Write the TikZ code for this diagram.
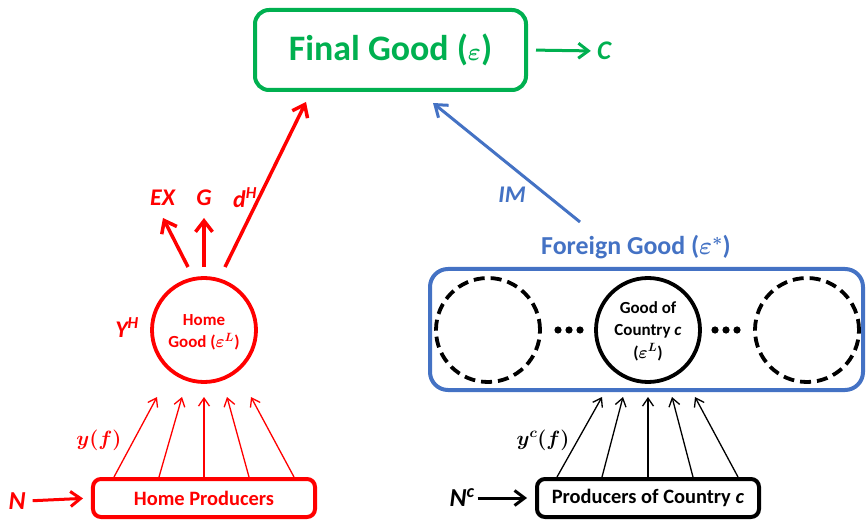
\documentclass[tikz,border=0pt]{standalone}
\usepackage{amsmath}
\usepackage{bm}
\usepackage{fontspec}
\setmainfont{Carlito}
\usetikzlibrary{arrows.meta}
\definecolor{fgreen}{RGB}{0,176,80}
\definecolor{fblue}{RGB}{68,114,196}
\definecolor{fred}{RGB}{255,0,0}
\tikzset{
  bigarrow/.style={line width=3.5bp,-{Straight Barb[length=11bp,width=17bp]}},
  thinarrow/.style={line width=1.3bp,-{Straight Barb[length=8bp,width=11bp]}},
  lbl/.style={font=\fontsize{24}{27}\selectfont\bfseries\itshape,inner sep=1bp},
  boxlbl/.style={font=\fontsize{20.5}{24}\selectfont\bfseries},
  circlbl/.style={font=\fontsize{17}{22.5}\selectfont\bfseries,align=center},
  prodbox/.style={draw,line width=4bp,rounded corners=8bp,minimum width=222bp,minimum height=38bp,inner sep=0},
  goodcirc/.style={circle,line width=3.8bp,minimum size=104bp,inner sep=0},
}
\begin{document}
\begin{tikzpicture}[x=1bp,y=-1bp]
\useasboundingbox (0,0) rectangle (866,521);

% Final good
\node[draw=fgreen,line width=4bp,rounded corners=14bp,minimum width=271bp,minimum height=80bp,
      text=fgreen,font=\fontsize{36}{40}\selectfont\bfseries] (final) at (390.5,50) {Final Good ($\bm{\varepsilon}$)};
\node[lbl,text=fgreen,font=\fontsize{27}{30}\selectfont\bfseries\itshape] (C) at (604,51) {C};
\draw[line width=3bp,fgreen,-{Straight Barb[length=10bp,width=15bp]},shorten <=8bp,shorten >=5bp] (final.east) -- (C.west);

% Home side
\node[goodcirc,draw=fred,text=fred] (home) at (204,330) {};
\node[circlbl,text=fred] (hometxt) at (204,332) {Home\\Good ($\bm{\varepsilon^{L}}$)};
\node[lbl,text=fred] (YH) at (127,328) {Y\textsuperscript{H}};

\node[lbl,text=fred] (EX) at (162.5,198) {EX};
\node[lbl,text=fred] (G) at (204,198) {G};
\node[lbl,text=fred] (dH) at (245,198) {d\textsuperscript{H}};

\coordinate (exs) at (188,267);
\coordinate (exe) at (163,218);
\coordinate (gs) at (204,267);
\coordinate (ge) at (204,218);
\coordinate (ds) at (225,267);
\coordinate (de) at (306,102);
\draw[bigarrow,fred] (exs) -- (exe);
\draw[bigarrow,fred] (gs) -- (ge);
\draw[bigarrow,fred] (ds) -- (de);

\node[prodbox,draw=fred,text=fred,boxlbl] (hp) at (204,498) {Home Producers};
\node[lbl,text=fred,font=\fontsize{26}{30}\selectfont\bfseries\itshape] (N) at (17,501) {N};
\draw[line width=3bp,fred,-{Straight Barb[length=10bp,width=15bp]},shorten <=6bp,shorten >=8bp] (N.east) -- (hp.west);

\foreach \i/\sx/\ex in {1/114/157,2/159/182,3/204/204,4/249/227,5/294/251}{
  \coordinate (hs\i) at (\sx,477);
  \coordinate (he\i) at (\ex,397);
  \draw[thinarrow,fred] (hs\i) -- (he\i);
}
\node[text=fred,font=\fontsize{20}{24}\selectfont] (yf) at (99,440) {$\bm{y(f)}$};

% Foreign side
\node[text=fblue,font=\fontsize{26}{30}\selectfont\bfseries] (fgt) at (636,247) {Foreign Good ($\bm{\varepsilon^{*}}$)};
\node[draw=fblue,line width=4bp,rounded corners=18bp,minimum width=433bp,minimum height=121bp,inner sep=0] (fbox) at (646.5,329.5) {};
\node[goodcirc,draw=black,dash pattern=on 11bp off 6bp] (lc) at (488,330) {};
\node[goodcirc,draw=black,dash pattern=on 11bp off 6bp] (rc) at (807,330) {};
\node[goodcirc,draw=black] (cc) at (648,330) {};
\node[circlbl,text=black] (cctxt) at (648,331) {Good of\\Country \textit{c}\\($\bm{\varepsilon^{L}}$)};
\foreach \dx in {558,569,580}{\fill (\dx,330) circle (3.6bp);}
\foreach \dx in {715,726,737}{\fill (\dx,330) circle (3.6bp);}

\coordinate (ims) at (580,222);
\coordinate (ime) at (433,103);
\draw[line width=3bp,fblue,-{Straight Barb[length=11bp,width=16bp]}] (ims) -- (ime);
\node[lbl,text=fblue] (IM) at (512,195) {IM};

\node[prodbox,draw=black,boxlbl] (pc) at (648,498) {Producers of Country \textit{c}};
\node[lbl,font=\fontsize{26}{30}\selectfont\bfseries\itshape] (Nc) at (462,498) {N\textsuperscript{c}};
\draw[line width=3bp,-{Straight Barb[length=10bp,width=15bp]},shorten <=2bp,shorten >=8bp] (Nc.east) -- (pc.west);

\foreach \i/\sx/\ex in {1/557/602,2/602/623,3/648/648,4/693/672,5/738/695}{
  \coordinate (cs\i) at (\sx,477);
  \coordinate (ce\i) at (\ex,397);
  \draw[thinarrow,black] (cs\i) -- (ce\i);
}
\node[font=\fontsize{20}{24}\selectfont] (ycf) at (543,440) {$\bm{y^{c}(f)}$};
\end{tikzpicture}
\end{document}
